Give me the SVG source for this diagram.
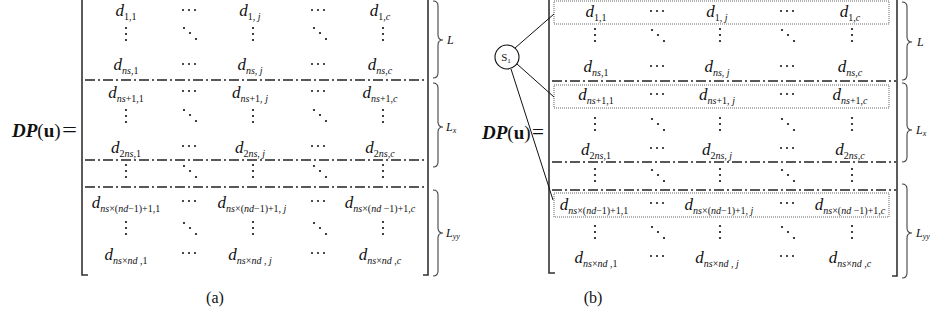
<svg xmlns="http://www.w3.org/2000/svg" width="930" height="322" viewBox="0 0 930 322" font-family="'Liberation Serif', 'Times New Roman', 'DejaVu Serif', serif">
<style>
text{font-family:'Liberation Serif','Times New Roman','DejaVu Serif',serif;fill:#111}
.d{font-size:17px;font-style:italic;text-anchor:middle}
.s{font-size:10px;font-style:normal}
.i{font-style:italic}
.lab{font-size:12px;font-style:italic}
.ls{font-size:8px;font-style:italic}
.eq{font-size:19px;font-weight:bold}
.eqs{font-size:20px}
.cap{font-size:16px;text-anchor:middle}
.br{fill:none;stroke:#333;stroke-width:1.6}
.brace{fill:none;stroke:#444;stroke-width:1.1}
.dl{stroke:#222;stroke-width:1.5;stroke-dasharray:10 3 2 3}
.box{fill:none;stroke:#555;stroke-width:0.9;stroke-dasharray:1 1}
.con{stroke:#111;stroke-width:1;fill:none}
.dot{fill:#111}
</style>
<defs>
<g id="vd"><circle class="dot" cx="0" cy="-6" r="1.1"/><circle class="dot" cx="0" cy="0" r="1.1"/><circle class="dot" cx="0" cy="6" r="1.1"/></g>
<g id="dd"><circle class="dot" cx="-6" cy="-6" r="1.1"/><circle class="dot" cx="0" cy="-1" r="1.1"/><circle class="dot" cx="6" cy="5" r="1.1"/></g>
<g id="cd"><circle class="dot" cx="-6" cy="0" r="1"/><circle class="dot" cx="0" cy="0" r="1"/><circle class="dot" cx="6" cy="0" r="1"/></g>
</defs>

<g id="matrix-a">
<text class="eq" x="12" y="137"><tspan font-style="italic">DP</tspan><tspan font-weight="normal">(</tspan>u<tspan font-weight="normal">)</tspan></text>
<text class="eqs" x="62" y="137" textLength="15" lengthAdjust="spacingAndGlyphs">=</text>
<path class="br" d="M88 275 H82 V0"/>
<path class="br" d="M423 275 H428 V0"/>
<line class="dl" x1="85" y1="80" x2="427" y2="80"/>
<line class="dl" x1="85" y1="160" x2="427" y2="160"/>
<line class="dl" x1="85" y1="187" x2="427" y2="187"/>
<text class="d" x="126" y="16">d<tspan class="s" dy="4">1,1</tspan></text>
<use href="#cd" x="189" y="10"/>
<text class="d" x="250" y="16">d<tspan class="s" dy="4">1, <tspan class="i">j</tspan></tspan></text>
<use href="#cd" x="318" y="10"/>
<text class="d" x="380" y="16">d<tspan class="s" dy="4">1,<tspan class="i">c</tspan></tspan></text>
<use href="#vd" x="126" y="34"/><use href="#dd" x="190" y="34"/><use href="#vd" x="253" y="34"/><use href="#dd" x="320" y="34"/><use href="#vd" x="383" y="34"/>
<text class="d" x="126" y="70">d<tspan class="s" dy="4"><tspan class="i">ns</tspan>,1</tspan></text>
<use href="#cd" x="189" y="64"/>
<text class="d" x="250" y="70">d<tspan class="s" dy="4"><tspan class="i">ns</tspan>, <tspan class="i">j</tspan></tspan></text>
<use href="#cd" x="318" y="64"/>
<text class="d" x="380" y="70">d<tspan class="s" dy="4"><tspan class="i">ns</tspan>,<tspan class="i">c</tspan></tspan></text>
<text class="d" x="126" y="98">d<tspan class="s" dy="4"><tspan class="i">ns</tspan>+1,1</tspan></text>
<use href="#cd" x="189" y="91"/>
<text class="d" x="250" y="98">d<tspan class="s" dy="4"><tspan class="i">ns</tspan>+1, <tspan class="i">j</tspan></tspan></text>
<use href="#cd" x="318" y="91"/>
<text class="d" x="380" y="98">d<tspan class="s" dy="4"><tspan class="i">ns</tspan>+1,<tspan class="i">c</tspan></tspan></text>
<use href="#vd" x="126" y="116"/><use href="#dd" x="190" y="116"/><use href="#vd" x="253" y="116"/><use href="#dd" x="320" y="116"/><use href="#vd" x="383" y="116"/>
<text class="d" x="126" y="153">d<tspan class="s" dy="4">2<tspan class="i">ns</tspan>,1</tspan></text>
<use href="#cd" x="189" y="146"/>
<text class="d" x="250" y="153">d<tspan class="s" dy="4">2<tspan class="i">ns</tspan>, <tspan class="i">j</tspan></tspan></text>
<use href="#cd" x="318" y="146"/>
<text class="d" x="380" y="153">d<tspan class="s" dy="4">2<tspan class="i">ns</tspan>,<tspan class="i">c</tspan></tspan></text>
<use href="#vd" x="126" y="171"/><use href="#dd" x="190" y="172"/><use href="#vd" x="253" y="171"/><use href="#dd" x="320" y="172"/><use href="#vd" x="383" y="171"/>
<text class="d" x="126" y="208">d<tspan class="s" dy="4"><tspan class="i">ns</tspan>×(<tspan class="i">nd</tspan>−1)+1,1</tspan></text>
<use href="#cd" x="189" y="201"/>
<text class="d" x="252" y="208">d<tspan class="s" dy="4"><tspan class="i">ns</tspan>×(<tspan class="i">nd</tspan>−1)+1, <tspan class="i">j</tspan></tspan></text>
<use href="#cd" x="318" y="201"/>
<text class="d" x="380" y="208">d<tspan class="s" dy="4"><tspan class="i">ns</tspan>×(<tspan class="i">nd</tspan> −1)+1,<tspan class="i">c</tspan></tspan></text>
<use href="#vd" x="126" y="228"/><use href="#dd" x="190" y="229"/><use href="#vd" x="253" y="228"/><use href="#dd" x="320" y="229"/><use href="#vd" x="383" y="228"/>
<text class="d" x="126" y="260">d<tspan class="s" dy="4"><tspan class="i">ns</tspan>×<tspan class="i">nd</tspan> ,1</tspan></text>
<use href="#cd" x="189" y="253"/>
<text class="d" x="250" y="260">d<tspan class="s" dy="4"><tspan class="i">ns</tspan>×<tspan class="i">nd</tspan> , <tspan class="i">j</tspan></tspan></text>
<use href="#cd" x="318" y="253"/>
<text class="d" x="380" y="260">d<tspan class="s" dy="4"><tspan class="i">ns</tspan>×<tspan class="i">nd</tspan> ,<tspan class="i">c</tspan></tspan></text>
<path class="brace" d="M433 1 Q438 1 438 6 V35 Q438 40 443 40 Q438 40 438 45 V73 Q438 78 433 78"/>
<path class="brace" d="M433 83 Q438 83 438 88 V122 Q438 127 443 127 Q438 127 438 132 V162 Q438 167 433 167"/>
<path class="brace" d="M433 190 Q438 190 438 195 V228 Q438 233 443 233 Q438 233 438 238 V271 Q438 276 433 276"/>
<text class="lab" x="447" y="44">L</text>
<text class="lab" x="446" y="131">L<tspan class="ls" dy="2">x</tspan></text>
<text class="lab" x="446" y="237">L<tspan class="ls" dy="2">yy</tspan></text>
<text class="cap" x="215" y="303">(a)</text>
</g>

<g id="matrix-b">
<text class="eq" x="482" y="139"><tspan font-style="italic">DP</tspan><tspan font-weight="normal">(</tspan>u<tspan font-weight="normal">)</tspan></text>
<text class="eqs" x="532" y="139" textLength="12" lengthAdjust="spacingAndGlyphs">=</text>
<path class="br" d="M555 273 H549 V0"/>
<path class="br" d="M892 276 H897 V0"/>
<line class="dl" x1="552" y1="81" x2="896" y2="81"/>
<line class="dl" x1="552" y1="162" x2="896" y2="162"/>
<line class="dl" x1="552" y1="190" x2="896" y2="190"/>
<rect class="box" x="554" y="1" width="335" height="23"/>
<rect class="box" x="554" y="85" width="335" height="23"/>
<rect class="box" x="554" y="193" width="335" height="24"/>
<text class="d" x="596" y="17">d<tspan class="s" dy="4">1,1</tspan></text>
<use href="#cd" x="657" y="11"/>
<text class="d" x="717" y="17">d<tspan class="s" dy="4">1, <tspan class="i">j</tspan></tspan></text>
<use href="#cd" x="787" y="11"/>
<text class="d" x="850" y="17">d<tspan class="s" dy="4">1,<tspan class="i">c</tspan></tspan></text>
<use href="#vd" x="595" y="35"/><use href="#dd" x="658" y="36"/><use href="#vd" x="720" y="35"/><use href="#dd" x="788" y="36"/><use href="#vd" x="852" y="35"/>
<text class="d" x="596" y="72">d<tspan class="s" dy="4"><tspan class="i">ns</tspan>,1</tspan></text>
<use href="#cd" x="657" y="66"/>
<text class="d" x="717" y="72">d<tspan class="s" dy="4"><tspan class="i">ns</tspan>, <tspan class="i">j</tspan></tspan></text>
<use href="#cd" x="787" y="66"/>
<text class="d" x="850" y="72">d<tspan class="s" dy="4"><tspan class="i">ns</tspan>,<tspan class="i">c</tspan></tspan></text>
<text class="d" x="596" y="100">d<tspan class="s" dy="4"><tspan class="i">ns</tspan>+1,1</tspan></text>
<use href="#cd" x="657" y="94"/>
<text class="d" x="717" y="100">d<tspan class="s" dy="4"><tspan class="i">ns</tspan>+1, <tspan class="i">j</tspan></tspan></text>
<use href="#cd" x="787" y="94"/>
<text class="d" x="850" y="100">d<tspan class="s" dy="4"><tspan class="i">ns</tspan>+1,<tspan class="i">c</tspan></tspan></text>
<use href="#vd" x="595" y="124"/><use href="#dd" x="658" y="125"/><use href="#vd" x="720" y="124"/><use href="#dd" x="788" y="125"/><use href="#vd" x="852" y="124"/>
<text class="d" x="596" y="155">d<tspan class="s" dy="4">2<tspan class="i">ns</tspan>,1</tspan></text>
<use href="#cd" x="657" y="148"/>
<text class="d" x="717" y="155">d<tspan class="s" dy="4">2<tspan class="i">ns</tspan>, <tspan class="i">j</tspan></tspan></text>
<use href="#cd" x="787" y="148"/>
<text class="d" x="850" y="155">d<tspan class="s" dy="4">2<tspan class="i">ns</tspan>,<tspan class="i">c</tspan></tspan></text>
<use href="#vd" x="595" y="175"/><use href="#dd" x="658" y="176"/><use href="#vd" x="720" y="175"/><use href="#dd" x="788" y="176"/><use href="#vd" x="852" y="175"/>
<text class="d" x="594" y="210">d<tspan class="s" dy="4"><tspan class="i">ns</tspan>×(<tspan class="i">nd</tspan>−1)+1,1</tspan></text>
<use href="#cd" x="657" y="203"/>
<text class="d" x="719" y="210">d<tspan class="s" dy="4"><tspan class="i">ns</tspan>×(<tspan class="i">nd</tspan>−1)+1, <tspan class="i">j</tspan></tspan></text>
<use href="#cd" x="787" y="203"/>
<text class="d" x="850" y="210">d<tspan class="s" dy="4"><tspan class="i">ns</tspan>×(<tspan class="i">nd</tspan> −1)+1,<tspan class="i">c</tspan></tspan></text>
<use href="#vd" x="595" y="232"/><use href="#dd" x="658" y="233"/><use href="#vd" x="720" y="232"/><use href="#dd" x="788" y="233"/><use href="#vd" x="852" y="232"/>
<text class="d" x="596" y="263">d<tspan class="s" dy="4"><tspan class="i">ns</tspan>×<tspan class="i">nd</tspan> ,1</tspan></text>
<use href="#cd" x="657" y="256"/>
<text class="d" x="717" y="263">d<tspan class="s" dy="4"><tspan class="i">ns</tspan>×<tspan class="i">nd</tspan> , <tspan class="i">j</tspan></tspan></text>
<use href="#cd" x="787" y="256"/>
<text class="d" x="850" y="263">d<tspan class="s" dy="4"><tspan class="i">ns</tspan>×<tspan class="i">nd</tspan> ,<tspan class="i">c</tspan></tspan></text>
<path class="brace" d="M902 2 Q907 2 907 7 V37 Q907 42 912 42 Q907 42 907 47 V75 Q907 80 902 80"/>
<path class="brace" d="M902 83 Q907 83 907 88 V125 Q907 130 912 130 Q907 130 907 135 V157 Q907 162 902 162"/>
<path class="brace" d="M902 184 Q907 184 907 189 V228 Q907 233 912 233 Q907 233 907 238 V273 Q907 278 902 278"/>
<text class="lab" x="917" y="46">L</text>
<text class="lab" x="916" y="134">L<tspan class="ls" dy="2">x</tspan></text>
<text class="lab" x="916" y="237">L<tspan class="ls" dy="2">yy</tspan></text>
<text class="cap" x="593" y="303">(b)</text>
</g>

<g id="s1">
<circle cx="507" cy="57" r="12" fill="#fff" stroke="#111" stroke-width="1.1"/>
<text x="506" y="61" font-size="11" text-anchor="middle">S<tspan font-size="7" dy="2">1</tspan></text>
</g>

<g id="connectors">
<line class="con" x1="515" y1="48" x2="554" y2="14"/>
<line class="con" x1="517" y1="64" x2="554" y2="97"/>
<line class="con" x1="511" y1="69" x2="553" y2="200"/>
</g>
</svg>
